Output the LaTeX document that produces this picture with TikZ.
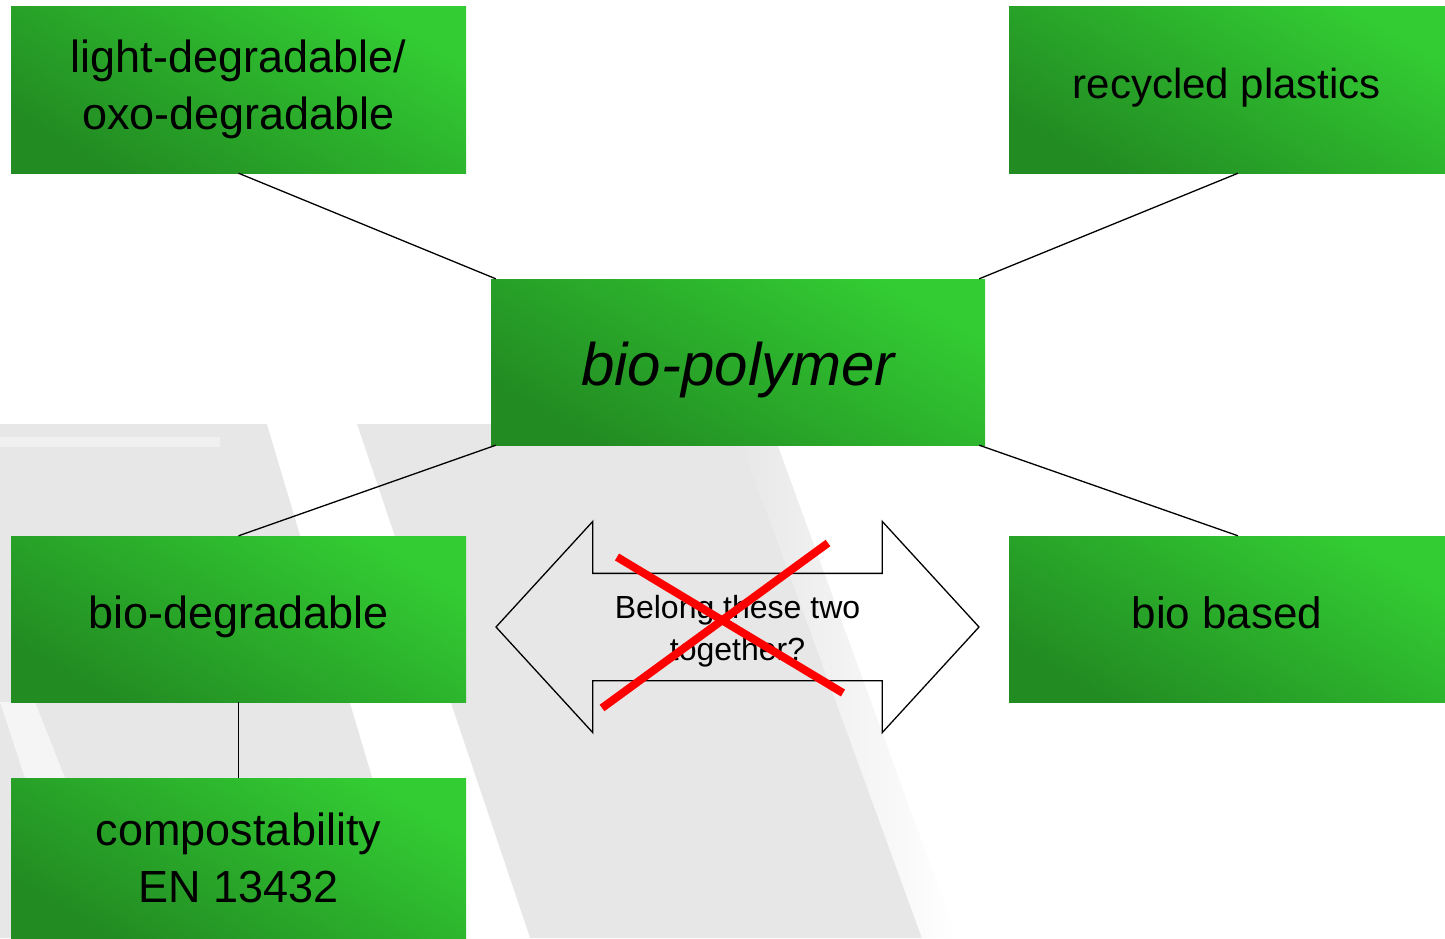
\documentclass[tikz,border=0pt]{standalone}
\usepackage{fontspec}
\setmainfont{Liberation Sans}
\usetikzlibrary{shapes.arrows,calc}
\definecolor{gdark}{RGB}{34,139,34}
\definecolor{glight}{RGB}{51,204,51}
\definecolor{bggrey}{RGB}{231,231,231}
\tikzset{
  gbox/.style={rectangle, inner sep=0pt, minimum width=455pt, minimum height=167pt,
    top color=glight, bottom color=gdark, shading angle=-30, align=center,
    font=\fontsize{45}{57}\selectfont},
  oneline/.style={text height=34pt, text depth=16pt},
  link/.style={draw=black, line width=1.3pt},
  crossline/.style={draw=red, line width=8pt},
  dblarrow/.style={double arrow, draw=black, line width=1.3pt, inner sep=0pt,
    text height=53pt, text depth=53pt, text width=0pt,
    minimum height=483pt, minimum width=211pt, double arrow head extend=52pt,
    double arrow tip angle=95},
  qtext/.style={align=center, inner sep=0pt, font=\fontsize{32}{42}\selectfont},
}
\begin{document}
\begin{tikzpicture}[x=1pt,y=-1pt]
\useasboundingbox (0,0) rectangle (1445,938);
% background swooshes
\fill[bggrey] (0,424) -- (735,424) -- (922,938) -- (0,938) -- cycle;
\shade[left color=bggrey, right color=white] (735,424) -- (770,424) -- (957,938) -- (922,938) -- cycle;
\fill[white] (267,424) -- (357,424) -- (530,938) -- (420,938) -- cycle;
\fill[white, opacity=0.4] (0,437) rectangle (220,447);
\fill[white, opacity=0.6] (0,702) -- (35,702) -- (65,778) -- (25,778) -- cycle;
% boxes
\node[gbox] (ld) at (238.5,89.5) {light-degradable/\\oxo-degradable};
\node[gbox, oneline, minimum width=436pt, font=\fontsize{42}{57}\selectfont] (rp) at (1227,89.5) {recycled plastics};
\node[gbox, minimum width=494pt, minimum height=166pt, text height=58pt, text depth=12pt, font=\fontsize{60}{70}\selectfont\itshape] (bp) at (738,362) {bio-polymer};
\node[gbox, oneline, minimum height=166pt] (bd) at (238.5,619) {bio-degradable};
\node[gbox, oneline, minimum width=436pt, minimum height=166pt, font=\fontsize{44}{57}\selectfont] (bb) at (1227,619) {bio based};
\node[gbox, minimum height=160pt] (cp) at (238.5,858) {compostability\\EN 13432};
% connectors
\draw[link] (ld.south) -- ([xshift=5pt]bp.north west);
\draw[link] ([xshift=11pt]rp.south) -- ([xshift=-6pt]bp.north east);
\draw[link] ([xshift=5pt]bp.south west) -- (bd.north);
\draw[link] ([xshift=-6pt]bp.south east) -- ([xshift=11pt]bb.north);
\draw[link] (bd.south) -- (cp.north);
% double arrow
\node[dblarrow] (q) at (737.5,627) {};
\node[qtext] (qt) at (737.5,631) {Belong these two\\together?};
% red cross
\coordinate (c1a) at (617,557);
\coordinate (c1b) at (843,693);
\coordinate (c2a) at (602,708);
\coordinate (c2b) at (828,543);
\draw[crossline] (c1a) -- (c1b);
\draw[crossline] (c2a) -- (c2b);
\end{tikzpicture}
\end{document}
